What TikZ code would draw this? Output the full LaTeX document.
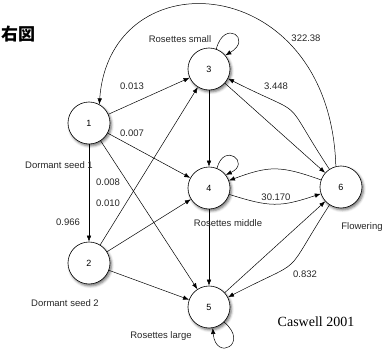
\documentclass[tikz,border=0pt]{standalone}
\usepackage{fontspec}
\setmainfont{Liberation Sans}
\newfontfamily\cjk{Noto Sans CJK JP}
\newfontfamily\serifen{Liberation Serif}
\usetikzlibrary{arrows.meta,shadows.blur}
\begin{document}
\begin{tikzpicture}[x=1bp,y=1bp,
  st/.style={circle,draw,line width=0.6bp,fill=white,minimum size=42bp,inner sep=0pt,
    font=\fontsize{9bp}{10bp}\selectfont,
    blur shadow={shadow xshift=1.5bp,shadow yshift=-2bp,shadow blur radius=2.5bp,shadow opacity=55}},
  arr/.style={-{Latex[length=6bp,width=4.5bp]},line width=0.5bp},
  lab/.style={font=\fontsize{9.5bp}{11bp}\selectfont,inner sep=0pt,text=black!85}]
\useasboundingbox (0,0) rectangle (389,355);

\node[st] (n1) at (89,232) {1};
\node[st] (n2) at (89,92) {2};
\node[st] (n3) at (209,286) {3};
\node[st] (n4) at (209,167) {4};
\node[st] (n5) at (209,48) {5};
\node[st] (n6) at (341,168) {6};

\draw[arr] (n1) -- (n3);
\draw[arr] (n1) -- (n4);
\draw[arr] (n1) -- (n5);
\draw[arr] (n1) -- (n2);
\draw[arr] (n2) -- (n3);
\draw[arr] (n2) -- (n4);
\draw[arr] (n2) -- (n5);
\draw[arr] (n3) -- (n4);
\draw[arr] (n4) -- (n5);
\draw[arr] (n3) -- (n6);
\draw[arr] (n5) -- (n6);
\draw[arr] (n6) to[bend right=15,looseness=1.75] (n3);
\draw[arr] (n6) to[bend right=20,looseness=1.2] (n4);
\draw[arr] (n4) to[bend right=18,looseness=1.2] (n6);
\draw[arr] (n6) to[bend left=15,looseness=1.7] (n5);
\draw[arr] (n6.104) .. controls (330,385) and (110,399) .. (n1.61);

\draw[arr] (n3.70) .. controls +(75:32) and +(30:32) .. (n3.40);
\draw[arr] (n4.68) .. controls +(75:28) and +(25:28) .. (n4.38);
\draw[arr] (n5.-45) .. controls +(-40:34) and +(-85:34) .. (n5.-80);

\node[font=\cjk\bfseries\fontsize{17bp}{18bp}\selectfont,inner sep=0pt] (ttl) at (18,321) {右図};
\node[lab] (l3) at (180,316) {Rosettes small};
\node[lab] (e13) at (132,269) {0.013};
\node[lab] (e14) at (132,222) {0.007};
\node[lab] (l1) at (59,190) {Dormant seed 1};
\node[lab] (e15) at (108,173) {0.008};
\node[lab] (e23) at (108,152) {0.010};
\node[lab] (e12) at (68,133) {0.966};
\node[lab] (l2) at (65,52) {Dormant seed 2};
\node[lab] (l5) at (161,19) {Rosettes large};
\node[lab] (e61) at (306,317) {322.38};
\node[lab] (e63) at (276,269) {3.448};
\node[lab] (e46) at (276,158) {30.170};
\node[lab] (l4) at (228,132) {Rosettes middle};
\node[lab] (l6) at (362,128) {Flowering};
\node[lab] (e65) at (305,81) {0.832};
\node[font=\serifen\fontsize{14bp}{16bp}\selectfont,inner sep=0pt] (src) at (316,33) {Caswell 2001};
\end{tikzpicture}
\end{document}
